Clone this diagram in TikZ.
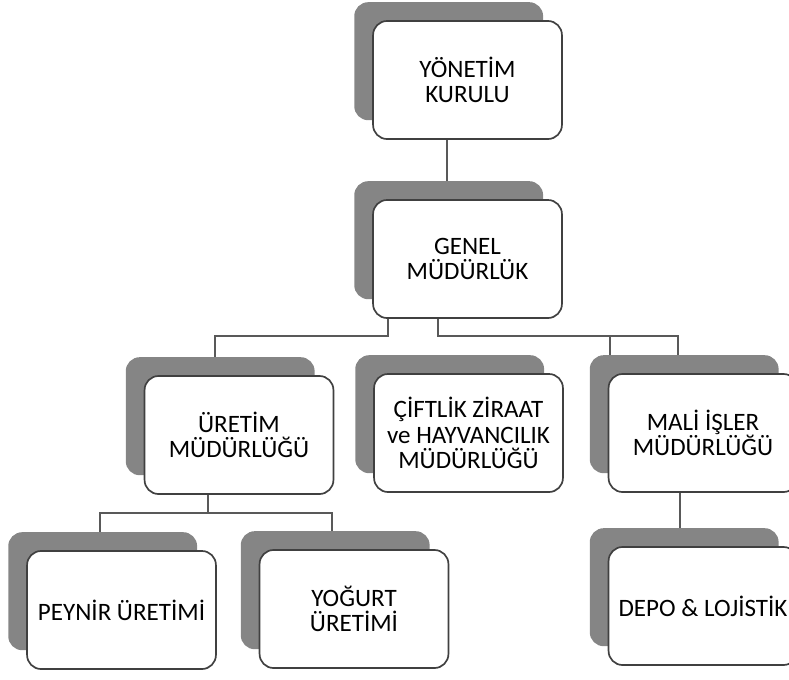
\documentclass[tikz,border=0pt]{standalone}
\usepackage{fontspec}
\setmainfont{Carlito}
\usetikzlibrary{shadows,backgrounds}

\begin{document}
\begin{tikzpicture}[x=0.025cm,y=-0.025cm,
    box/.style={draw=black!75,line width=1.2pt,fill=white,rounded corners=0.35cm,
      minimum width=4.72cm,minimum height=2.95cm,align=center,
      font=\fontsize{17.8}{18.2}\selectfont,
      general shadow={fill=black!48,shadow xshift=-0.47cm,shadow yshift=0.47cm}},
    link/.style={draw=black!65,line width=1.4pt}]
        \useasboundingbox (0,0) rectangle (789,679);
        \clip (0,0) rectangle (789,679);
        % top
        \node[box] (ynt) at (467.5,80){YÖNETİM\\KURULU};
        \node[box] (gnl) at (467.5,259){GENEL\\MÜDÜRLÜK};
        % second row
        \node[box] (urt) at (239,435){ÜRETİM\\MÜDÜRLÜĞÜ};
        \node[box] (cft) at (468.5,433){ÇİFTLİK ZİRAAT\\ve HAYVANCILIK\\MÜDÜRLÜĞÜ};
        \node[box] (mal) at (703,433){MALİ İŞLER\\MÜDÜRLÜĞÜ};
        % third row
        \node[box] (pey) at (121.5,610){PEYNİR ÜRETİMİ};
        \node[box] (yog) at (354,609){YOĞURT\\ÜRETİMİ};
        \node[box] (dep) at (703,606){DEPO \& LOJİSTİK};
        \begin{pgfonlayer}{background}
        \draw[link] ([xshift=-0.51cm]ynt.south) -- ([xshift=-0.51cm]gnl.north);
        \draw[link] ([xshift=-1.99cm]gnl.south) -- ++(0,17) -| ([xshift=-0.6cm]urt.north);
        \draw[link] ([xshift=-0.74cm]gnl.south) -- ++(0,17) coordinate (gb) -| ([xshift=-0.625cm]mal.north);
        \coordinate (md) at ([xshift=-2.325cm]mal.north);
        \draw[link] (md |- gb) -- (md);
        \draw[link] ([xshift=-0.775cm]urt.south) -- ++(0,18) coordinate (ub);
        \draw[link] ([xshift=-0.54cm]pey.north) |- (ub) -| ([xshift=-0.55cm]yog.north);
        \draw[link] ([xshift=-0.575cm]mal.south) -- ([xshift=-0.575cm]dep.north);
        \end{pgfonlayer}
      \end{tikzpicture}
\end{document}
